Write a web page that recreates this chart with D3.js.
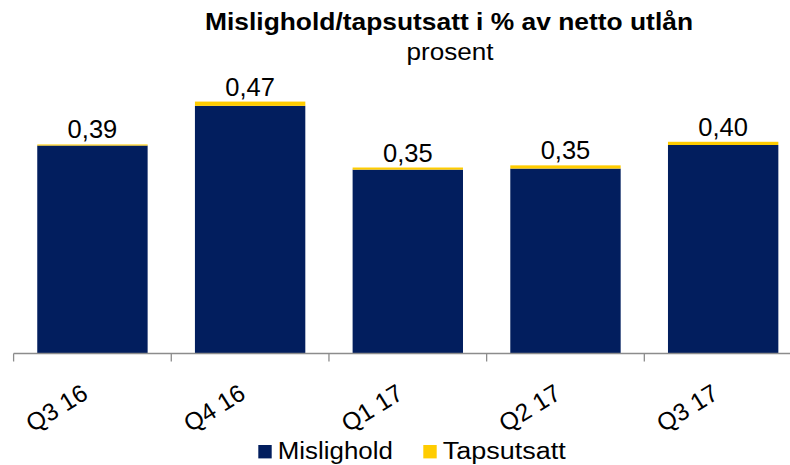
<!DOCTYPE html>
<html><head><meta charset="utf-8">
<script src="https://cdn.jsdelivr.net/npm/d3@7"></script>
<style>body{margin:0;background:#fff}svg{font-family:"Liberation Sans",Arial,sans-serif}</style>
</head><body><svg id="c" width="790" height="465"></svg>
<script>
const categories = ["Q3 16","Q4 16","Q1 17","Q2 17","Q3 17"];
const mislighold = [0.388, 0.462, 0.343, 0.345, 0.389];
const tapsutsatt = [0.002, 0.008, 0.004, 0.006, 0.006];
const labels = ["0,39","0,47","0,35","0,35","0,40"];
const seriesNames = ["Mislighold","Tapsutsatt"];
const colors = ["#021E5E","#FFCC00"];

const svg = d3.select("#c");
const base = 353.5;
const x = d3.scaleBand().domain(categories).range([13.6, 802]).paddingInner(0.3).paddingOuter(0.15);
const y = d3.scaleLinear().domain([0, 0.5]).range([base, base - 0.5*536]);

// bars
const g = svg.append("g");
categories.forEach((c,i)=>{
  const m = mislighold[i], t = tapsutsatt[i];
  g.append("rect").attr("x", x(c)).attr("width", x.bandwidth())
    .attr("y", y(m)).attr("height", y(0)-y(m)).attr("fill", colors[0]);
  g.append("rect").attr("x", x(c)).attr("width", x.bandwidth())
    .attr("y", y(m+t)).attr("height", y(m)-y(m+t)).attr("fill", colors[1]);
  g.append("text").attr("x", x(c)+x.bandwidth()/2).attr("y", y(m+t)-6)
    .attr("text-anchor","middle").attr("font-size", 25.5).attr("fill","#000").text(labels[i]);
});

// axis
const xt = d3.scaleBand().domain(categories).range([13.6, 802]);
const ax = svg.append("g").attr("transform",`translate(0,${base})`);
ax.append("line").attr("x1",13.6).attr("x2",790).attr("y1",0).attr("y2",0).attr("stroke","#8c8c8c").attr("stroke-width",1.3);
categories.forEach(c=>{
  ax.append("line").attr("x1",xt(c)).attr("x2",xt(c)).attr("y1",0).attr("y2",8).attr("stroke","#8c8c8c").attr("stroke-width",1.3);
  const cx = xt(c)+xt.bandwidth()/2;
  ax.append("text").attr("transform",`translate(${cx-3},${44}) rotate(-32)`)
    .attr("text-anchor","end").attr("font-size",24.5).attr("fill","#000").text(c);
});

// title
svg.append("text").attr("x",449).attr("y",30).attr("text-anchor","middle")
  .attr("font-size",24).attr("font-weight","bold")
  .attr("textLength",488).attr("lengthAdjust","spacingAndGlyphs")
  .text("Mislighold/tapsutsatt i % av netto utlån");
svg.append("text").attr("x",450).attr("y",60).attr("text-anchor","middle")
  .attr("font-size",23).attr("textLength",87).attr("lengthAdjust","spacingAndGlyphs").text("prosent");

// legend
const leg = svg.append("g");
const lx = [258.3, 423.3];
const lw = [115, 123];
seriesNames.forEach((s,i)=>{
  leg.append("rect").attr("x",lx[i]).attr("y",445).attr("width",13.4).attr("height",13.4).attr("fill",colors[i]);
  leg.append("text").attr("x",lx[i]+19.5).attr("y",459.3).attr("font-size",23)
    .attr("textLength",lw[i]).attr("lengthAdjust","spacingAndGlyphs").text(s);
});
</script></body></html>
